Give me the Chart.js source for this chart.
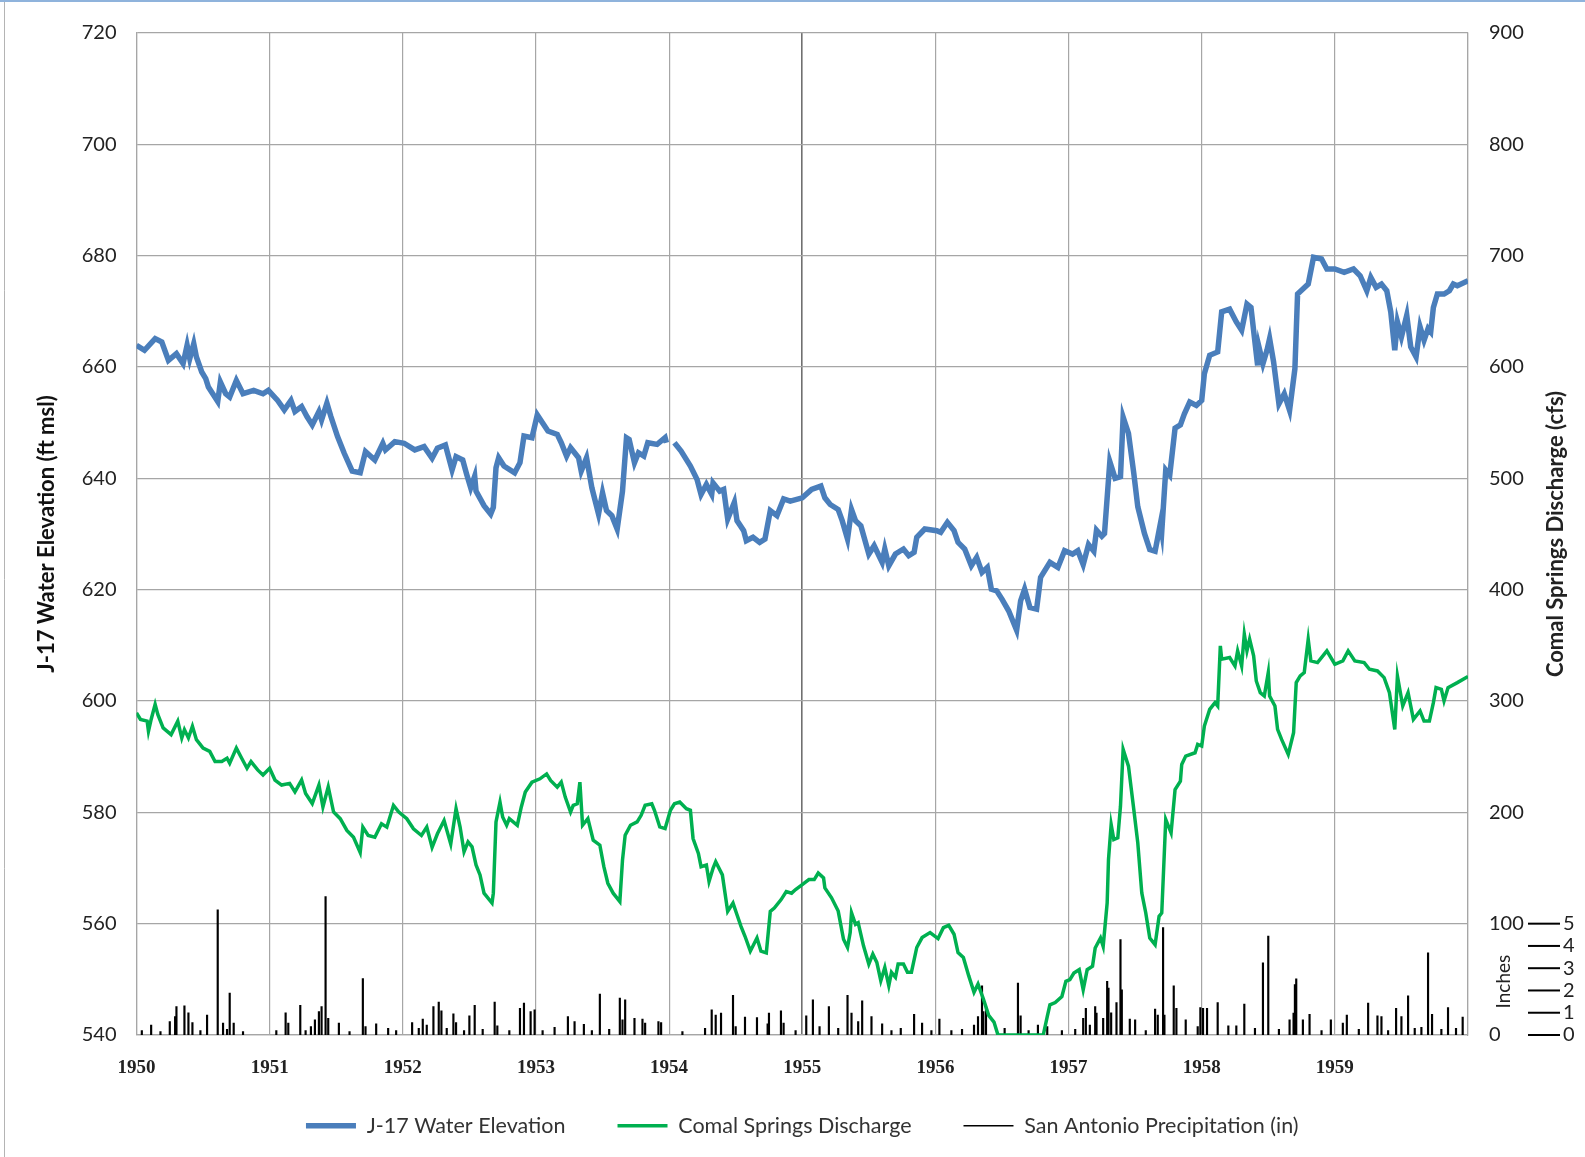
<!DOCTYPE html>
<html>
<head>
<meta charset="utf-8">
<script src="https://cdn.jsdelivr.net/npm/chart.js@4.4.1/dist/chart.umd.min.js"></script>
<style>
html,body{margin:0;padding:0;background:#fff;}
#wrap{position:relative;width:1585px;height:1157px;}
</style>
</head>
<body>
<div id="wrap"><canvas id="chart"></canvas></div>
<script>
// J-17 water elevation (ft msl)
const elevYears = [1950.00,1950.06,1950.14,1950.19,1950.24,1950.30,1950.35,1950.38,1950.40,1950.43,1950.45,1950.49,1950.52,1950.54,1950.61,1950.63,1950.67,1950.70,1950.75,1950.80,1950.88,1950.95,1950.99,
1951.06,1951.11,1951.16,1951.19,1951.24,1951.28,1951.32,1951.37,1951.39,1951.43,1951.46,1951.51,1951.56,1951.62,1951.68,1951.72,1951.79,1951.85,1951.87,1951.94,
1952.01,1952.09,1952.16,1952.22,1952.26,1952.32,1952.37,1952.40,1952.45,1952.48,1952.51,1952.54,1952.55,1952.61,1952.66,1952.68,1952.70,1952.72,1952.76,1952.84,1952.88,1952.91,1952.97,
1953.01,1953.09,1953.16,1953.19,1953.23,1953.26,1953.32,1953.34,1953.38,1953.42,1953.47,1953.50,1953.53,1953.57,1953.61,1953.65,1953.68,1953.70,1953.74,1953.77,1953.81,1953.84,1953.91,1953.97,1953.98,
1954.01,1954.04,1954.09,1954.16,1954.21,1954.24,1954.28,1954.32,1954.33,1954.38,1954.41,1954.44,1954.49,1954.51,1954.56,1954.58,1954.63,1954.68,1954.72,1954.76,1954.81,1954.86,1954.91,
1955.00,1955.07,1955.14,1955.17,1955.21,1955.27,1955.30,1955.34,1955.37,1955.40,1955.44,1955.50,1955.54,1955.60,1955.62,1955.65,1955.70,1955.76,1955.80,1955.84,1955.86,1955.92,
1956.01,1956.04,1956.09,1956.14,1956.17,1956.22,1956.27,1956.31,1956.35,1956.39,1956.42,1956.46,1956.50,1956.55,1956.61,1956.64,1956.67,1956.71,1956.76,1956.79,1956.86,1956.92,1956.97,
1957.03,1957.07,1957.11,1957.15,1957.19,1957.21,1957.25,1957.27,1957.31,1957.35,1957.39,1957.41,1957.45,1957.49,1957.52,1957.57,1957.61,1957.65,1957.69,1957.70,1957.73,1957.76,1957.80,1957.84,1957.87,1957.91,1957.96,
1958.00,1958.02,1958.06,1958.12,1958.15,1958.21,1958.26,1958.30,1958.34,1958.37,1958.42,1958.43,1958.46,1958.49,1958.51,1958.54,1958.58,1958.62,1958.66,1958.70,1958.72,1958.76,1958.80,1958.84,1958.90,1958.94,
1959.00,1959.07,1959.14,1959.19,1959.24,1959.27,1959.31,1959.35,1959.39,1959.42,1959.45,1959.47,1959.50,1959.54,1959.57,1959.61,1959.64,1959.67,1959.70,1959.72,1959.74,1959.77,1959.82,1959.86,1959.89,1959.92,1960.00];
const elevFt = [663.9,663.0,665.1,664.5,661.2,662.4,660.6,663.9,661.5,664.2,661.8,659.1,657.9,656.4,653.8,657.3,655.2,654.6,657.6,655.2,655.8,655.2,655.8,
654.0,652.3,654.0,652.0,652.9,651.1,649.6,652.0,650.5,653.5,651.1,647.5,644.5,641.3,641.0,644.8,643.3,646.3,645.1,646.6,
646.3,645.1,645.7,643.6,645.4,646.0,641.5,643.9,643.3,640.7,638.3,640.4,637.7,635.1,633.6,634.8,641.9,643.7,642.2,641.0,642.8,647.6,647.3,
651.4,648.5,647.9,646.4,644.0,645.5,643.7,641.3,643.7,638.3,633.6,637.4,634.2,633.3,630.9,637.7,647.3,647.0,642.8,644.6,644.0,646.4,646.1,647.3,646.4,
null,646.4,644.9,642.2,639.8,637.1,638.9,637.1,639.2,637.7,638.0,632.7,635.7,632.4,630.6,628.8,629.4,628.5,629.1,634.2,633.3,636.3,635.9,
636.5,638.0,638.6,636.5,635.3,634.4,632.4,629.1,634.4,632.4,631.5,626.4,627.9,624.9,627.3,624.3,626.4,627.3,626.1,626.7,629.4,630.9,
630.6,630.3,632.1,630.6,628.5,627.3,624.3,625.8,623.1,624.0,620.1,619.8,618.3,616.2,612.7,618.0,620.1,616.8,616.5,622.2,624.9,624.0,627.0,
626.4,627.0,624.5,628.1,626.9,630.7,629.6,630.1,643.0,640.0,640.3,651.0,648.1,640.9,634.9,630.1,627.2,626.9,631.9,630.4,641.5,640.6,649.0,649.6,651.6,653.7,653.1,
654.0,658.8,662.1,662.7,669.9,670.4,668.1,666.6,671.3,670.7,660.3,663.6,660.6,663.0,665.1,660.9,653.4,655.2,652.2,659.7,673.1,674.0,674.9,679.7,679.4,677.6,
677.6,677.0,677.6,676.4,673.7,676.1,674.3,674.9,673.7,669.9,663.0,668.1,665.4,669.3,663.6,661.8,667.2,664.8,666.9,666.3,670.7,673.1,673.1,673.7,674.9,674.6,675.5];

// Comal Springs discharge (cfs)
const flowYears = [1950.00,1950.03,1950.08,1950.09,1950.11,1950.14,1950.16,1950.20,1950.26,1950.31,1950.34,1950.36,1950.39,1950.42,1950.45,1950.50,1950.55,1950.59,1950.64,1950.68,1950.70,1950.75,1950.79,1950.83,1950.86,1950.91,1950.95,
1951.00,1951.04,1951.09,1951.15,1951.19,1951.24,1951.27,1951.32,1951.37,1951.40,1951.44,1951.48,1951.53,1951.58,1951.63,1951.68,1951.70,1951.74,1951.79,1951.84,1951.88,1951.93,1951.97,
1952.03,1952.08,1952.14,1952.18,1952.22,1952.26,1952.31,1952.36,1952.40,1952.43,1952.46,1952.49,1952.52,1952.55,1952.58,1952.61,1952.67,1952.68,1952.70,1952.73,1952.75,1952.78,1952.80,1952.86,1952.89,1952.92,1952.97,
1953.03,1953.08,1953.11,1953.16,1953.19,1953.22,1953.26,1953.28,1953.31,1953.33,1953.35,1953.39,1953.43,1953.48,1953.51,1953.54,1953.58,1953.63,1953.65,1953.67,1953.71,1953.76,1953.79,1953.82,1953.87,1953.89,1953.93,1953.97,
1954.01,1954.04,1954.08,1954.13,1954.16,1954.18,1954.22,1954.24,1954.28,1954.30,1954.33,1954.35,1954.40,1954.44,1954.48,1954.51,1954.54,1954.57,1954.61,1954.66,1954.69,1954.73,1954.76,1954.79,1954.84,1954.88,1954.92,1954.95,
1955.00,1955.05,1955.09,1955.12,1955.16,1955.17,1955.22,1955.27,1955.31,1955.34,1955.36,1955.37,1955.40,1955.42,1955.46,1955.50,1955.53,1955.56,1955.59,1955.62,1955.65,1955.67,1955.70,1955.72,1955.76,1955.79,1955.82,1955.86,1955.90,1955.96,
1956.02,1956.06,1956.10,1956.14,1956.17,1956.21,1956.25,1956.29,1956.32,1956.36,1956.40,1956.44,1956.47,1956.81,1956.84,1956.86,1956.90,1956.95,1956.98,
1957.01,1957.04,1957.08,1957.11,1957.14,1957.18,1957.20,1957.24,1957.26,1957.29,1957.30,1957.32,1957.34,1957.37,1957.39,1957.41,1957.45,1957.49,1957.52,1957.55,1957.58,1957.61,1957.65,1957.68,1957.70,1957.73,1957.77,1957.80,1957.84,1957.85,1957.88,1957.95,1957.97,
1958.00,1958.02,1958.06,1958.10,1958.12,1958.14,1958.15,1958.21,1958.25,1958.27,1958.30,1958.32,1958.34,1958.36,1958.39,1958.41,1958.44,1958.47,1958.50,1958.51,1958.55,1958.57,1958.60,1958.65,1958.69,1958.71,1958.74,1958.77,1958.80,1958.82,1958.87,1958.94,
1959.00,1959.06,1959.10,1959.15,1959.22,1959.26,1959.32,1959.37,1959.41,1959.45,1959.47,1959.51,1959.55,1959.59,1959.64,1959.67,1959.71,1959.74,1959.76,1959.80,1959.82,1959.85,1959.92,1960.00];
const flowCfs = [289.4,283.4,281.9,272.8,283.4,297.0,287.9,275.8,269.8,281.9,266.8,274.3,266.8,277.3,265.3,257.7,254.7,245.6,245.6,248.6,244.1,257.7,248.6,239.6,245.6,238.1,233.5,
239.6,229.0,224.5,226.0,218.4,229.0,216.9,207.9,224.5,204.8,223.0,200.3,194.3,183.7,177.6,164.0,186.7,179.2,177.6,189.7,186.7,206.3,200.3,
194.3,185.2,179.2,186.7,168.6,180.7,192.7,171.6,203.3,187.0,164.6,173.5,169.0,152.7,143.8,127.4,118.5,127.4,191.4,209.2,195.8,188.4,194.3,188.4,204.8,218.2,227.1,
230.1,234.5,228.6,222.6,227.1,213.7,200.3,206.3,207.7,227.1,188.4,194.3,175.0,170.5,151.2,136.3,127.4,119.9,157.1,179.5,188.4,191.4,197.3,206.3,207.7,201.8,186.9,185.4,
201.8,207.7,209.2,203.3,201.8,176.5,163.1,151.2,152.7,137.8,149.7,155.7,143.8,111.0,118.5,108.0,97.6,88.7,75.3,87.2,75.3,73.8,111.0,114.0,121.4,128.9,127.4,130.7,
135.1,139.6,139.6,145.5,141.1,132.1,123.2,111.3,86.0,78.6,92.0,109.8,99.4,100.9,80.1,63.7,72.6,65.2,48.8,60.7,44.3,56.3,51.8,63.7,63.7,56.3,56.3,78.6,87.5,92.0,
86.6,96.4,98.5,90.5,74.1,69.6,53.3,38.4,45.8,32.4,17.6,11.6,0,0,16.6,27.1,29.2,34.6,48.2,
49.7,55.7,58.7,40.7,58.7,61.7,78.1,87.1,79.6,118.6,157.6,189.1,175.6,177.1,205.5,256.5,241.5,202.5,172.6,127.6,109.6,87.1,81.1,106.6,109.6,193.6,181.6,220.5,228.0,243.0,250.5,253.5,261.0,
259.5,277.5,292.5,298.5,295.5,349.5,337.5,339.0,331.5,345.0,331.5,360.0,345.0,355.5,340.5,318.0,307.5,304.5,325.5,304.5,295.5,274.5,265.5,252.0,271.5,316.5,322.5,325.5,355.5,336.0,334.5,345.0,
333.0,336.0,345.0,336.0,334.5,328.5,327.0,321.0,307.5,274.5,322.5,295.5,307.5,283.5,291.0,282.0,282.0,298.5,312.0,310.5,300.0,312.0,316.5,322.0];

// San Antonio daily precipitation (in)
const rainYears = [1950.04,1950.11,1950.18,1950.25,1950.29,1950.30,1950.36,1950.39,1950.42,1950.48,1950.53,1950.61,1950.65,1950.68,1950.70,1950.73,1950.80,
1951.05,1951.12,1951.14,1951.23,1951.27,1951.31,1951.34,1951.37,1951.39,1951.42,1951.44,1951.52,1951.60,1951.70,1951.72,1951.80,1951.89,1951.95,
1952.07,1952.12,1952.15,1952.18,1952.23,1952.27,1952.29,1952.33,1952.38,1952.40,1952.46,1952.50,1952.54,1952.60,1952.69,1952.71,1952.80,1952.88,1952.91,1952.96,1952.99,
1953.05,1953.14,1953.24,1953.29,1953.36,1953.42,1953.48,1953.55,1953.63,1953.65,1953.67,1953.74,1953.80,1953.82,1953.92,1953.94,
1954.10,1954.27,1954.32,1954.35,1954.39,1954.48,1954.50,1954.57,1954.66,1954.74,1954.75,1954.84,1954.86,1954.95,
1955.03,1955.08,1955.13,1955.20,1955.27,1955.34,1955.37,1955.42,1955.45,1955.52,1955.60,1955.67,1955.74,1955.84,1955.90,1955.97,
1956.03,1956.12,1956.20,1956.29,1956.32,1956.35,1956.36,1956.38,1956.52,1956.62,1956.64,1956.70,1956.77,1956.84,1956.95,
1957.05,1957.11,1957.13,1957.16,1957.20,1957.21,1957.26,1957.29,1957.30,1957.32,1957.36,1957.39,1957.40,1957.46,1957.50,1957.58,1957.65,1957.67,1957.71,1957.72,1957.79,1957.81,1957.88,1957.97,1957.99,
1958.01,1958.04,1958.12,1958.20,1958.26,1958.32,1958.40,1958.46,1958.50,1958.58,1958.66,1958.69,1958.70,1958.71,1958.76,1958.81,1958.90,1958.97,
1959.06,1959.09,1959.18,1959.25,1959.32,1959.35,1959.40,1959.46,1959.50,1959.55,1959.60,1959.65,1959.70,1959.73,1959.80,1959.85,1959.91,1959.96];
const rainIn = [0.2,0.45,0.15,0.6,0.83,1.28,1.31,1.0,0.56,0.2,0.9,5.62,0.53,0.25,1.88,0.53,0.15,
0.2,1.0,0.53,1.33,0.2,0.38,0.68,1.05,1.28,6.22,0.75,0.53,0.15,2.53,0.38,0.5,0.3,0.2,
0.56,0.3,0.71,0.45,1.28,1.48,1.08,0.3,0.95,0.56,0.2,0.86,1.33,0.25,1.48,0.41,0.2,1.2,1.43,1.05,1.13,
0.2,0.35,0.83,0.6,0.48,0.2,1.84,0.25,1.66,0.68,1.58,0.75,0.71,0.53,0.6,0.56,
0.15,0.3,1.13,0.9,0.98,1.78,0.38,0.8,0.78,0.5,0.98,1.08,0.53,0.2,
0.86,1.58,0.38,1.28,0.3,1.78,0.98,0.6,1.54,0.83,0.5,0.2,0.3,0.93,0.53,0.2,
0.71,0.2,0.25,0.45,0.83,2.21,1.05,1.28,0.3,2.33,0.86,0.2,0.45,0.38,0.2,
0.25,0.75,1.2,0.45,1.28,0.98,0.75,2.41,2.11,1.0,1.46,4.29,2.03,0.71,0.68,0.2,1.16,0.9,4.82,0.9,2.21,1.2,0.68,0.38,1.23,
1.2,1.2,1.46,0.41,0.41,1.39,0.3,3.24,4.44,0.25,0.68,0.98,2.26,2.52,0.68,0.93,0.2,0.68,
0.53,0.9,0.25,1.43,0.86,0.83,0.2,1.2,0.83,1.76,0.3,0.35,3.69,0.93,0.25,1.23,0.3,0.8];

const inchTicks = [0,1,2,3,4,5];

const gridGray = '#a6a6a6';
const xy = (xs, ys) => xs.map((x, i) => ({x: x, y: ys[i]}));

// thin frame edges like the pasted chart object
const frame = {
  id: 'frame',
  beforeDraw(chart) {
    const ctx = chart.ctx;
    ctx.save();
    ctx.fillStyle = '#8fb3dc';
    ctx.fillRect(0, 0, chart.width, 2);
    ctx.strokeStyle = '#b4b4b4';
    ctx.lineWidth = 1;
    ctx.beginPath();
    ctx.moveTo(4.5, 2);
    ctx.lineTo(4.5, chart.height);
    ctx.stroke();
    ctx.restore();
  }
};

// right-hand extras: inch scale, "Inches", right title (bottom-to-top like the left one)
const sideText = {
  id: 'sideText',
  afterDraw(chart) {
    const ctx = chart.ctx, area = chart.chartArea, p = chart.scales.yP;
    ctx.save();
    ctx.strokeStyle = '#000';
    ctx.lineWidth = 2;
    ctx.fillStyle = '#222';
    ctx.font = '20px Lato';
    ctx.textAlign = 'left';
    ctx.textBaseline = 'middle';
    inchTicks.forEach(v => {
      const y = p.getPixelForValue(v);
      ctx.beginPath();
      ctx.moveTo(area.right + 60, y);
      ctx.lineTo(area.right + 92, y);
      ctx.stroke();
      ctx.fillText(String(v), area.right + 95, y);
    });
    ctx.save();
    ctx.translate(area.right + 36, p.getPixelForValue(2.4));
    ctx.rotate(-Math.PI / 2);
    ctx.textAlign = 'center';
    ctx.font = '19px Lato';
    ctx.fillText('Inches', 0, 0);
    ctx.restore();
    ctx.save();
    ctx.translate(area.right + 88, (area.top + area.bottom) / 2);
    ctx.rotate(-Math.PI / 2);
    ctx.textAlign = 'center';
    ctx.font = 'bold 22px Lato';
    ctx.fillText('Comal Springs Discharge (cfs)', 0, 0);
    ctx.restore();
    ctx.restore();
  }
};

// put the legend row a fixed distance below the plot (and widen its clip box)
const legendSpot = {
  id: 'legendSpot',
  afterLayout(chart) {
    const lg = chart.legend;
    lg.top = chart.chartArea.bottom + 28;
    lg.bottom = chart.height;
    lg.height = lg.bottom - lg.top;
  }
};

new Chart(document.getElementById('chart'), {
  type: 'line',
  data: {
    datasets: [
      {
        label: 'J-17 Water Elevation',
        data: xy(elevYears, elevFt),
        borderColor: '#4a7ebb',
        backgroundColor: '#4a7ebb',
        borderWidth: 5.5,
        pointRadius: 0,
        tension: 0,
        yAxisID: 'y',
        order: 1
      },
      {
        label: 'Comal Springs Discharge',
        data: xy(flowYears, flowCfs),
        borderColor: '#00b050',
        backgroundColor: '#00b050',
        borderWidth: 3.5,
        pointRadius: 0,
        tension: 0,
        yAxisID: 'y2',
        order: 2
      },
      {
        type: 'bar',
        label: 'San Antonio Precipitation (in)',
        data: xy(rainYears, rainIn),
        backgroundColor: '#000',
        borderColor: '#000',
        borderWidth: 0,
        barThickness: 1.5,
        yAxisID: 'yP',
        order: 3
      }
    ]
  },
  options: {
    responsive: true,
    maintainAspectRatio: false,
    devicePixelRatio: 1,
    animation: false,
    layout: {padding: {top: 29, left: 0, right: 0, bottom: 0}},
    plugins: {
      tooltip: {enabled: false},
      legend: {
        position: 'bottom',
        fullSize: false,
        maxHeight: 50,
        labels: {
          usePointStyle: true,
          pointStyle: 'line',
          pointStyleWidth: 50,
          padding: 52,
          color: '#333',
          font: {family: 'Lato', size: 21.5},
          generateLabels(chart) {
            const items = Chart.defaults.plugins.legend.labels.generateLabels(chart);
            const widths = [5.5, 3.5, 1.5];
            items.forEach((it, i) => { it.lineWidth = widths[i]; it.strokeStyle = chart.data.datasets[i].borderColor; });
            return items;
          }
        }
      }
    },
    scales: {
      x: {
        type: 'linear',
        min: 1950,
        max: 1960,
        offset: false,
        afterFit(s) { s.height = 72; },
        ticks: {
          stepSize: 1,
          padding: 22,
          color: '#222',
          font: {family: 'Liberation Serif', size: 19, weight: 'bold'},
          maxRotation: 0,
          callback: v => (v < 1960 ? String(v) : '')
        },
        grid: {
          offset: false,
          color: ctx => (ctx.tick && ctx.tick.value === 1955 ? '#707070' : gridGray),
          lineWidth: ctx => (ctx.tick && ctx.tick.value === 1955 ? 1.6 : 1.2),
          drawTicks: false
        },
        border: {color: gridGray, width: 1.2}
      },
      y: {
        position: 'left',
        min: 540,
        max: 720,
        afterFit(s) { s.width = 136.5; },
        ticks: {stepSize: 20, padding: 20, color: '#222', font: {family: 'Lato', size: 20}},
        grid: {color: gridGray, lineWidth: 1.2, drawTicks: false},
        border: {color: gridGray, width: 1.2},
        title: {
          display: true,
          text: 'J-17 Water Elevation (ft msl)',
          color: '#111',
          font: {family: 'Lato', size: 22, weight: 'bold'},
          padding: {top: 34, bottom: 0}
        }
      },
      y2: {
        position: 'right',
        min: 0,
        max: 900,
        afterFit(s) { s.width = 117; },
        ticks: {stepSize: 100, padding: 21, color: '#222', font: {family: 'Lato', size: 20}},
        grid: {drawOnChartArea: false, drawTicks: false},
        border: {color: gridGray, width: 1.2}
      },
      yP: {
        position: 'right',
        display: false,
        min: 0,
        max: 45
      }
    }
  },
  plugins: [frame, sideText, legendSpot]
});
</script>
</body>
</html>
